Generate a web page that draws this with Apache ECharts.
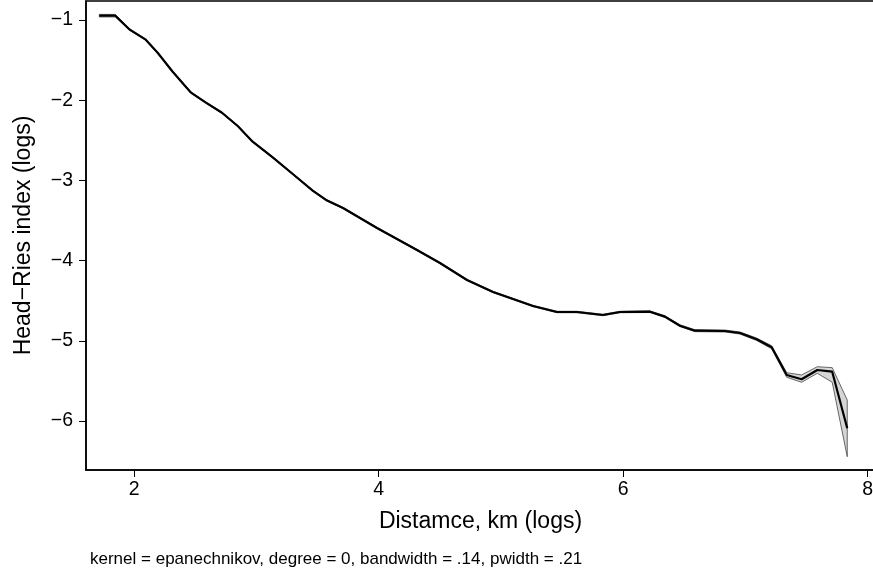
<!DOCTYPE html>
<html>
<head>
<meta charset="utf-8">
<script src="https://cdn.jsdelivr.net/npm/echarts@6/dist/echarts.min.js"></script>
<style>
  html, body { margin: 0; padding: 0; background: #fff; overflow: hidden; }
  #chart { width: 873px; height: 574px; }
</style>
</head>
<body>
<div id="chart"></div>
<script>
// log distance grid points
var distLog = [1.716, 1.847, 1.961, 2.092, 2.193, 2.316, 2.466, 2.588, 2.719, 2.848,
  2.970, 3.134, 3.298, 3.461, 3.570, 3.709, 3.987, 4.314, 4.502, 4.723,
  4.936, 5.263, 5.459, 5.623, 5.835, 5.974, 6.220, 6.342, 6.465, 6.588,
  6.833, 6.956, 7.092, 7.215, 7.338, 7.460, 7.588, 7.710, 7.833];
// smoothed Head-Ries index (logs)
var hrIndex = [-0.946, -0.946, -1.116, -1.241, -1.408, -1.645, -1.906, -2.031, -2.156, -2.322,
  -2.517, -2.712, -2.920, -3.128, -3.244, -3.344, -3.593, -3.868, -4.030, -4.242,
  -4.391, -4.566, -4.641, -4.641, -4.678, -4.641, -4.637, -4.699, -4.812, -4.874,
  -4.878, -4.903, -4.981, -5.081, -5.426, -5.480, -5.364, -5.385, -6.091];
// confidence band
var ciHigh = [-0.930, -0.930, -1.106, -1.233, -1.400, -1.637, -1.898, -2.023, -2.148, -2.314,
  -2.509, -2.704, -2.912, -3.120, -3.236, -3.336, -3.585, -3.860, -4.022, -4.234,
  -4.383, -4.558, -4.632, -4.632, -4.669, -4.632, -4.627, -4.689, -4.801, -4.862,
  -4.866, -4.890, -4.966, -5.062, -5.398, -5.426, -5.323, -5.335, -5.738];
var ciLow = [-0.962, -0.962, -1.126, -1.249, -1.416, -1.653, -1.914, -2.039, -2.164, -2.330,
  -2.525, -2.720, -2.928, -3.136, -3.252, -3.352, -3.601, -3.876, -4.038, -4.250,
  -4.399, -4.574, -4.650, -4.650, -4.687, -4.650, -4.647, -4.709, -4.823, -4.886,
  -4.890, -4.916, -4.996, -5.100, -5.455, -5.517, -5.405, -5.517, -6.445];
var xTicks = [2, 4, 6, 8];
var yTicks = [-6, -5, -4, -3, -2, -1];

var FONT = '"Liberation Sans", Arial, Helvetica, sans-serif';

var lineData = distLog.map(function (x, i) { return [x, hrIndex[i]]; });

var chart = echarts.init(document.getElementById('chart'));
chart.setOption({
  animation: false,
  backgroundColor: '#fff',
  grid: {
    left: 86,
    top: 1,
    width: 789,
    height: 469,
    outerBoundsMode: 'none',
    show: true,
    borderColor: '#000',
    borderWidth: 1.5
  },
  xAxis: {
    type: 'value',
    min: 1.607,
    max: 8.06,
    name: 'Distamce, km (logs)',
    nameLocation: 'middle',
    nameGap: 40,
    nameTextStyle: { fontFamily: FONT, fontSize: 23, color: '#000' },
    axisLine: { show: true, lineStyle: { color: '#000', width: 1.5 } },
    axisTick: { show: true, length: 7, customValues: xTicks, lineStyle: { color: '#000' } },
    axisLabel: {
      customValues: xTicks,
      margin: 10,
      fontFamily: FONT,
      fontSize: 19.5,
      color: '#000'
    },
    splitLine: { show: false }
  },
  yAxis: {
    type: 'value',
    min: -6.611,
    max: -0.763,
    name: 'Head\u2212Ries index (logs)',
    nameLocation: 'middle',
    nameGap: 51,
    nameTextStyle: { fontFamily: FONT, fontSize: 23, color: '#000' },
    axisLine: { show: true, lineStyle: { color: '#000', width: 1.5 } },
    axisTick: { show: true, length: 7, customValues: yTicks, lineStyle: { color: '#000' } },
    axisLabel: {
      customValues: yTicks,
      margin: 13,
      fontFamily: FONT,
      fontSize: 19.5,
      color: '#000',
      formatter: function (v) { return String(v).replace('-', '\u2212'); }
    },
    splitLine: { show: false }
  },
  graphic: [
    {
      type: 'text',
      left: 90,
      top: 551,
      style: {
        text: 'kernel = epanechnikov, degree = 0, bandwidth = .14, pwidth = .21',
        font: '17px ' + FONT,
        fill: '#000'
      }
    }
  ],
  series: [
    {
      // CI band as polygon through the axes
      type: 'custom',
      z: 1,
      silent: true,
      data: [[distLog[0], ciLow[0]]],
      renderItem: function (params, api) {
        var pts = [];
        for (var i = 0; i < distLog.length; i++) {
          pts.push(api.coord([distLog[i], ciHigh[i]]));
        }
        for (var j = distLog.length - 1; j >= 0; j--) {
          pts.push(api.coord([distLog[j], ciLow[j]]));
        }
        return {
          type: 'polygon',
          shape: { points: pts },
          style: { fill: '#d6d6d6', stroke: '#444', lineWidth: 0.8 }
        };
      }
    },
    {
      type: 'line',
      z: 2,
      data: lineData,
      showSymbol: false,
      lineStyle: { color: '#000', width: 2.2 }
    }
  ]
});
</script>
</body>
</html>
